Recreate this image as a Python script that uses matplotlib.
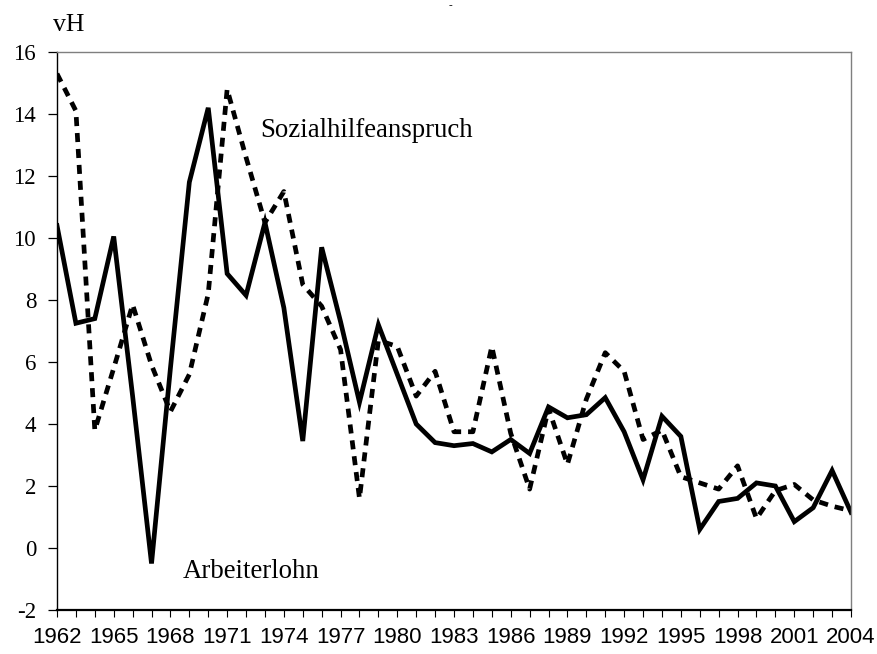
import numpy as np
import matplotlib
matplotlib.use("Agg")
import matplotlib.pyplot as plt

# yearly change rates in vH
years = list(range(1962, 2005))
arbeiterlohn = [10.4, 7.25, 7.4, 10.05, 4.9, -0.5, 5.8, 11.8, 14.2, 8.85,
                8.15, 10.5, 7.75, 3.45, 9.7, 7.3, 4.7, 7.2, 5.6, 4.0,
                3.4, 3.3, 3.37, 3.1, 3.5, 3.05, 4.55, 4.2, 4.3, 4.85,
                3.75, 2.2, 4.25, 3.6, 0.6, 1.5, 1.6, 2.1, 2.0, 0.85,
                1.3, 2.5, 1.15]
sozialhilfe = [15.3, 14.1, 3.8, 5.8, 7.85, 5.9, 4.4, 5.6, 8.2, 14.8,
               12.6, 10.5, 11.5, 8.5, 7.8, 6.4, 1.6, 6.7, 6.5, 4.9,
               5.7, 3.75, 3.75, 6.5, 3.7, 1.9, 4.5, 2.7, 4.8, 6.3,
               5.7, 3.5, 3.8, 2.3, 2.1, 1.9, 2.65, 0.95, 1.85, 2.05,
               1.55, 1.35, 1.2]
y_ticks = list(range(-2, 17, 2))
x_labels = [str(y) if (y - 1962) % 3 == 0 else "" for y in years]

plt.rcParams["lines.scale_dashes"] = False

fig = plt.figure(figsize=(8.77, 6.54), dpi=100)
ax = fig.add_axes([57 / 877, 44 / 654, 794 / 877, 558 / 654])

ax.plot(years, sozialhilfe, color="black", linewidth=3.4,
        dashes=(6.5, 5.0), dash_capstyle="butt", solid_joinstyle="miter")
ax.plot(years, arbeiterlohn, color="black", linewidth=3.4,
        solid_joinstyle="miter")

ax.set_xlim(years[0], years[-1])
ax.set_ylim(-2, 16)
ax.set_yticks(y_ticks)
ax.set_yticklabels([str(v) for v in y_ticks], fontsize=16.5,
                   family="Liberation Serif")
ax.set_xticks(years)
ax.set_xticklabels(x_labels, fontsize=16, family="Liberation Sans")

ax.tick_params(axis="y", direction="out", length=6.5, width=0.9,
               color="black", pad=8.5)
ax.tick_params(axis="x", direction="out", length=5, width=0.8,
               color="black", pad=7)

for side in ("top", "right"):
    ax.spines[side].set_color("#7f7f7f")
    ax.spines[side].set_linewidth(1.0)
ax.spines["left"].set_color("black")
ax.spines["left"].set_linewidth(1.0)
ax.spines["bottom"].set_color("black")
ax.spines["bottom"].set_linewidth(1.6)

ax.text(1972.74, 13.48, "Sozialhilfeanspruch", fontsize=19.3,
        family="Liberation Serif", ha="left", va="center")
ax.text(1968.67, -0.77, "Arbeiterlohn", fontsize=19.3,
        family="Liberation Serif", ha="left", va="center")

fig.text(53 / 877, 1 - 31 / 654, "vH", fontsize=18.5,
         family="Liberation Serif", ha="left", va="baseline")
fig.text(450 / 877, 1 - 8 / 654, "-", fontsize=8,
         family="Liberation Serif", ha="center", va="baseline")

fig.savefig("out.png", dpi=100)
